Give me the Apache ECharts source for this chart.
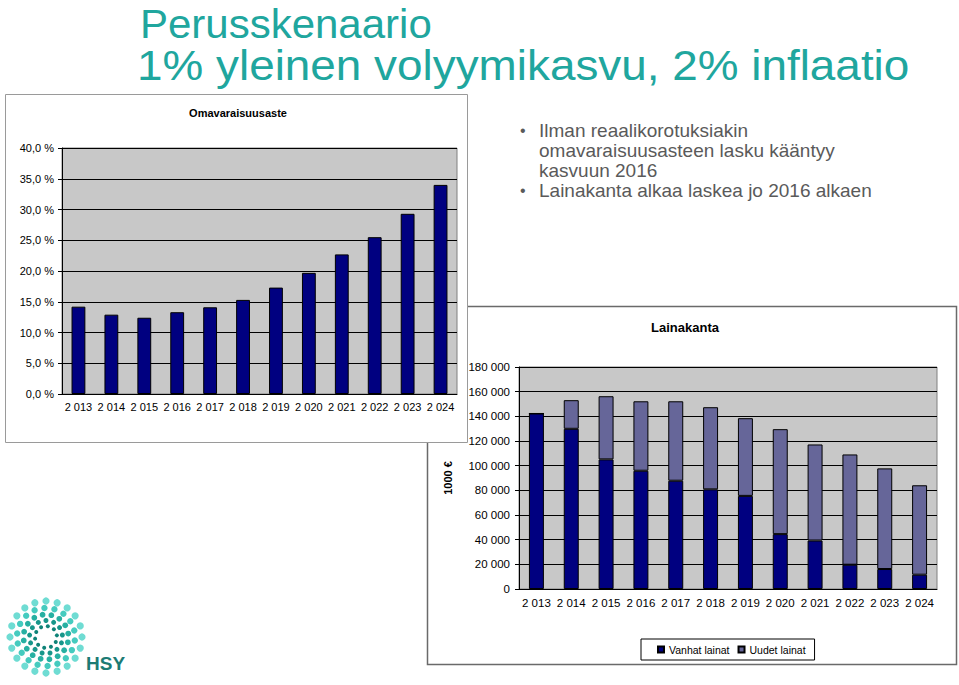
<!DOCTYPE html>
<html><head><meta charset="utf-8">
<script src="https://cdn.jsdelivr.net/npm/echarts@6/dist/echarts.min.js"></script>
<style>html,body{margin:0;padding:0;background:#fff}#c{width:959px;height:685px}</style>
</head><body><div id="c"></div>
<script>
// ---- data ----
const years = ['2 013','2 014','2 015','2 016','2 017','2 018','2 019','2 020','2 021','2 022','2 023','2 024'];
const omavaraisuusaste = [14.2, 12.9, 12.4, 13.3, 14.1, 15.3, 17.3, 19.7, 22.7, 25.5, 29.3, 34.0];
const vanhatLainat = [142300, 129900, 105100, 95900, 87800, 80800, 75500, 44500, 39300, 19700, 16200, 11600];
const uudetLainat  = [0, 23200, 51200, 56300, 64400, 66600, 63000, 85100, 77900, 89400, 81600, 72500];
const seriesNames = ['Vanhat lainat', 'Uudet lainat'];
const titleLines = ['Perusskenaario', '1% yleinen volyymikasvu, 2% inflaatio'];
const bullets = [['Ilman reaalikorotuksiakin', 'omavaraisuusasteen lasku kääntyy', 'kasvuun 2016'], ['Lainakanta alkaa laskea jo 2016 alkaen']];

const FONT = '"Liberation Sans", Arial, sans-serif';
const chart = echarts.init(document.getElementById('c'), null, {renderer: 'svg'});

function pctFmt(v) { return v.toFixed(1).replace('.', ',') + ' %'; }
function thFmt(v) { return String(v).replace(/\B(?=(\d{3})+(?!\d))/g, ' '); }

// ---- decoration: logo ----
const logo = [];
const cx = 46, cy = 637;
const rings = [
  {r: 36, n: 20, s: 3.6, c: '#6FDCD3', off: 0},
  {r: 29, n: 18, s: 3.2, c: '#45CBBF', off: 0.12},
  {r: 22.5, n: 16, s: 2.9, c: '#27B0A2', off: 0.24},
  {r: 16.5, n: 13, s: 2.5, c: '#17968A', off: 0.36},
  {r: 11, n: 10, s: 2.0, c: '#0F8378', off: 0.48}
];
rings.forEach(rg => {
  for (let i = 0; i < rg.n; i++) {
    const a = rg.off + i * 2 * Math.PI / rg.n;
    logo.push({type: 'circle', shape: {cx: cx + rg.r * Math.cos(a), cy: cy + rg.r * Math.sin(a), r: rg.s}, style: {fill: rg.c}, silent: true});
  }
});
logo.push({type: 'text', x: 86, y: 663, style: {text: 'HSY', fill: '#1C7B74', font: 'bold 19px ' + FONT, textVerticalAlign: 'middle'}});

const bulletTexts = [];
let ly = 130;
bullets.forEach(b => {
  bulletTexts.push({type: 'text', x: 520, y: ly, style: {text: '•', fill: '#5a5a5a', font: '16px ' + FONT, textVerticalAlign: 'middle'}});
  b.forEach(line => {
    bulletTexts.push({type: 'text', x: 539, y: ly, style: {text: line, fill: '#5a5a5a', font: '19px ' + FONT, textVerticalAlign: 'middle'}});
    ly += 20;
  });
});

const option = {
  animation: false,
  backgroundColor: '#fff',
  textStyle: {fontFamily: FONT},
  graphic: [
    {type: 'rect', z: -20, shape: {x: 427.5, y: 306.5, width: 529, height: 358}, style: {fill: '#fff', stroke: '#6a6a6a', lineWidth: 1.5}},
    {type: 'rect', z: -15, shape: {x: 5.5, y: 94.5, width: 462, height: 348}, style: {fill: '#fff', stroke: '#9a9a9a', lineWidth: 1}},
    {type: 'text', x: 140, y: 24, scaleX: 1.05, style: {text: titleLines[0], fill: '#20A69E', font: '40px ' + FONT, lineHeight: 34, textVerticalAlign: 'middle'}},
    {type: 'text', x: 137, y: 65, scaleX: 1.092, style: {text: titleLines[1], fill: '#20A69E', font: '42px ' + FONT, lineHeight: 38, textVerticalAlign: 'middle'}},
    {type: 'text', x: 238, y: 113, style: {text: 'Omavaraisuusaste', fill: '#000', font: 'bold 11px ' + FONT, textAlign: 'center', textVerticalAlign: 'middle'}},
    {type: 'text', x: 685, y: 327, style: {text: 'Lainakanta', fill: '#000', font: 'bold 13px ' + FONT, textAlign: 'center', textVerticalAlign: 'middle'}}
  ].concat(bulletTexts, logo),
  legend: {
    data: seriesNames, left: 641, top: 639, icon: 'rect', itemWidth: 6, itemHeight: 6, itemGap: 8,
    padding: [5, 9, 5, 16], borderColor: '#000', borderWidth: 1, backgroundColor: '#fff',
    textStyle: {fontSize: 10.5, color: '#000', fontFamily: FONT}
  },
  grid: [
    {left: 62, top: 148, width: 395, height: 246, show: true, backgroundColor: '#C8C8C8', borderColor: '#808080', borderWidth: 1},
    {left: 519, top: 367, width: 418, height: 222, show: true, backgroundColor: '#C8C8C8', borderColor: '#808080', borderWidth: 1}
  ],
  xAxis: [
    {type: 'category', gridIndex: 0, data: years,
     axisLine: {lineStyle: {color: '#000'}}, axisTick: {lineStyle: {color: '#000'}, length: 4},
     axisLabel: {color: '#000', fontSize: 11, margin: 7, interval: 0}},
    {type: 'category', gridIndex: 1, data: years,
     axisLine: {lineStyle: {color: '#000'}}, axisTick: {lineStyle: {color: '#000'}, length: 4},
     axisLabel: {color: '#000', fontSize: 11.5, margin: 8, interval: 0}}
  ],
  yAxis: [
    {type: 'value', gridIndex: 0, min: 0, max: 40, interval: 5,
     axisLine: {show: true, lineStyle: {color: '#000'}}, axisTick: {show: true, length: 4, lineStyle: {color: '#000'}},
     axisLabel: {color: '#000', fontSize: 11, margin: 8, formatter: pctFmt},
     splitLine: {lineStyle: {color: '#000', width: 1}}},
    {type: 'value', gridIndex: 1, min: 0, max: 180000, interval: 20000,
     name: '1000 €', nameLocation: 'middle', nameGap: 66, nameRotate: 90,
     nameTextStyle: {fontWeight: 'bold', fontSize: 11, color: '#000'},
     axisLine: {show: true, lineStyle: {color: '#000'}}, axisTick: {show: true, length: 4, lineStyle: {color: '#000'}},
     axisLabel: {color: '#000', fontSize: 11.5, margin: 9, formatter: thFmt},
     splitLine: {lineStyle: {color: '#000', width: 1}}}
  ],
  series: [
    {type: 'bar', name: 'Omavaraisuusaste', xAxisIndex: 0, yAxisIndex: 0, data: omavaraisuusaste, barWidth: '42%',
     itemStyle: {color: '#000080', borderColor: '#000', borderWidth: 1}},
    {type: 'bar', name: seriesNames[0], xAxisIndex: 1, yAxisIndex: 1, stack: 'l', data: vanhatLainat, barWidth: '43%',
     itemStyle: {color: '#000080', borderColor: '#000', borderWidth: 1}},
    {type: 'bar', name: seriesNames[1], xAxisIndex: 1, yAxisIndex: 1, stack: 'l', data: uudetLainat, barWidth: '43%',
     itemStyle: {color: '#666699', borderColor: '#000', borderWidth: 1}}
  ]
};
chart.setOption(option);
</script></body></html>
